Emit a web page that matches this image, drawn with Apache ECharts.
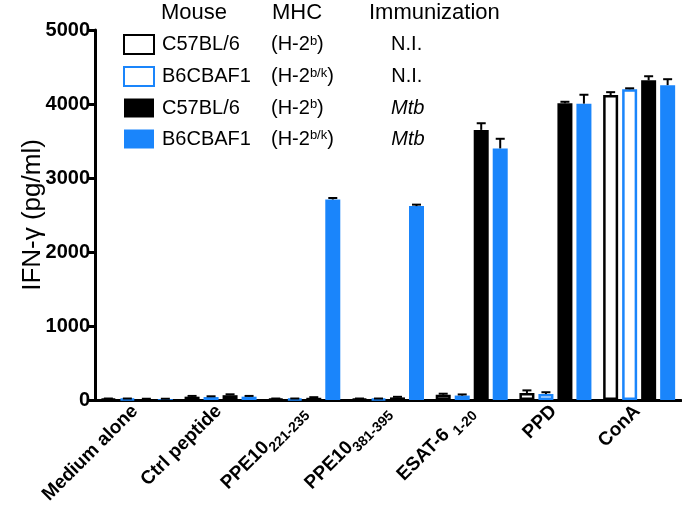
<!DOCTYPE html>
<html><head><meta charset="utf-8">
<script src="https://cdn.jsdelivr.net/npm/echarts@6/dist/echarts.min.js"></script>
<style>html,body{margin:0;padding:0;background:#fff}#c{width:682px;height:516px}</style>
</head><body><div id="c"></div>
<script>
// ---- data ----
var catMain = ['Medium alone', 'Ctrl peptide', 'PPE10', 'PPE10', 'ESAT-6 ', 'PPD', 'ConA'];
var catSub  = ['', '', '221-235', '381-395', '1-20', '', ''];
var categories = ['Medium alone', 'Ctrl peptide', 'PPE10 221-235', 'PPE10 381-395', 'ESAT-6 1-20', 'PPD', 'ConA'];

var seriesNames = ['C57BL/6 NI', 'B6CBAF1 NI', 'C57BL/6 Mtb', 'B6CBAF1 Mtb'];
var mouse = ['C57BL/6', 'B6CBAF1', 'C57BL/6', 'B6CBAF1'];
var mhcSup = ['b', 'b/k', 'b', 'b/k'];
var immun = ['N.I.', 'N.I.', 'Mtb', 'Mtb'];

var c57NI  = [15, 45, 15, 15, 70, 95, 4120];
var b6NI   = [15, 40, 15, 15, 60, 80, 4200];
var c57Mtb = [12, 65, 30, 35, 3650, 4010, 4320];
var b6Mtb  = [12, 45, 2710, 2620, 3400, 4005, 4255];

var c57NIerr  = [5, 10, 5, 5, 15, 35, 40];
var b6NIerr   = [5, 10, 5, 5, 15, 25, 12];
var c57Mtberr = [5, 12, 8, 8, 90, 20, 55];
var b6Mtberr  = [5, 10, 20, 20, 130, 120, 80];

var yTicks = [0, 1000, 2000, 3000, 4000, 5000];
var yTitle = 'IFN-γ (pg/ml)';

// ---- styles ----
var BLUE = '#1a85fb';
var values = [c57NI, b6NI, c57Mtb, b6Mtb];
var errs = [c57NIerr, b6NIerr, c57Mtberr, b6Mtberr];
var styles = [
  {color: '#ffffff', borderColor: '#000000', borderWidth: 2.5},
  {color: '#ffffff', borderColor: BLUE, borderWidth: 2.5},
  {color: '#000000', borderColor: '#000000', borderWidth: 0},
  {color: BLUE, borderColor: BLUE, borderWidth: 0}
];
var BAR_W = 15, GAP = 4;

var series = [];
for (var i = 0; i < 4; i++) {
  series.push({
    name: seriesNames[i], type: 'bar', data: values[i],
    barWidth: BAR_W, barGap: (GAP / BAR_W * 100) + '%',
    itemStyle: styles[i], z: 2
  });
}
for (var j = 0; j < 4; j++) {
  (function (k) {
    var d = values[k].map(function (v, idx) { return [idx, v, errs[k][idx]]; });
    series.push({
      type: 'custom', data: d, z: 5, silent: true,
      renderItem: function (params, api) {
        var idx = api.value(0), v = api.value(1), e = api.value(2);
        var total = 4 * BAR_W + 3 * GAP;
        var off = -total / 2 + k * (BAR_W + GAP) + BAR_W / 2;
        var p0 = api.coord([idx, v]);
        var p1 = api.coord([idx, v + e]);
        var x = p0[0] + off;
        return {
          type: 'group', children: [
            {type: 'line', shape: {x1: x, y1: p0[1], x2: x, y2: p1[1]}, style: {stroke: '#000', lineWidth: 2}},
            {type: 'line', shape: {x1: x - 4.5, y1: p1[1], x2: x + 4.5, y2: p1[1]}, style: {stroke: '#000', lineWidth: 2}}
          ]
        };
      }
    });
  })(j);
}

var chart = echarts.init(document.getElementById('c'), null, {renderer: 'canvas'});
var FONT = 'Liberation Sans, Arial, Helvetica, sans-serif';
chart.setOption({
  animation: false,
  textStyle: {fontFamily: FONT},
  grid: {left: 95, right: 1, top: 30, bottom: 116, containLabel: false},
  legend: {
    orient: 'vertical', left: 118, top: 29, itemWidth: 30, itemHeight: 19, itemGap: 11,
    data: seriesNames, icon: 'rect', selectedMode: false,
    formatter: function (name) {
      var i = seriesNames.indexOf(name);
      var p = mhcSup[i] === 'b' ? 'pb' : 'pk';
      var im = immun[i] === 'Mtb' ? 'it' : 'n';
      return '{m|' + mouse[i] + '}{h|(H-2}{s|' + mhcSup[i] + '}{' + p + '|)}{' + im + '|' + immun[i] + '}';
    },
    textStyle: {
      fontFamily: FONT, fontSize: 20, color: '#000', padding: [0, 0, 0, 3],
      rich: {
        m: {fontSize: 20, width: 109, fontFamily: FONT, color: '#000'},
        h: {fontSize: 20, fontFamily: FONT, color: '#000'},
        s: {fontSize: 13, fontFamily: FONT, color: '#000', verticalAlign: 'top', lineHeight: 14},
        pb: {fontSize: 20, fontFamily: FONT, color: '#000', width: 74},
        pk: {fontSize: 20, fontFamily: FONT, color: '#000', width: 64},
        n: {fontSize: 20, fontFamily: FONT, color: '#000'},
        it: {fontSize: 20, fontFamily: FONT, color: '#000', fontStyle: 'italic'}
      }
    }
  },
  graphic: [
    {type: 'text', left: 161, top: 2, style: {text: 'Mouse', fontSize: 22, fontFamily: FONT, fill: '#000'}},
    {type: 'text', left: 272, top: 2, style: {text: 'MHC', fontSize: 22, fontFamily: FONT, fill: '#000'}},
    {type: 'text', left: 369, top: 2, style: {text: 'Immunization', fontSize: 22, fontFamily: FONT, fill: '#000'}},
    {type: 'text', x: 33, y: 215, rotation: Math.PI / 2,
      style: {text: yTitle, fontSize: 26, fontFamily: FONT, fill: '#000', align: 'center', verticalAlign: 'middle'}}
  ],
  xAxis: {
    type: 'category', data: categories,
    axisLine: {lineStyle: {color: '#000', width: 3}},
    axisTick: {alignWithLabel: true, length: 9, lineStyle: {color: '#000', width: 3}},
    axisLabel: {
      rotate: 45, margin: 10, interval: 0, color: '#000',
      formatter: function (v, idx) {
        var i = categories.indexOf(v);
        var s = '{a|' + catMain[i] + '}';
        if (catSub[i]) s += '{s|' + catSub[i] + '}';
        return s;
      },
      rich: {
        a: {fontSize: 19, fontWeight: 'bold', fontFamily: FONT, color: '#000', lineHeight: 24, verticalAlign: 'top'},
        s: {fontSize: 14, fontWeight: 'bold', fontFamily: FONT, color: '#000', lineHeight: 14, verticalAlign: 'bottom'}
      }
    }
  },
  yAxis: {
    type: 'value', min: yTicks[0], max: yTicks[yTicks.length - 1], interval: 1000,
    axisLine: {show: true, lineStyle: {color: '#000', width: 3}},
    axisTick: {show: true, length: 8, lineStyle: {color: '#000', width: 3}},
    axisLabel: {fontSize: 20, fontWeight: 'bold', color: '#000', margin: 5, fontFamily: FONT,
      formatter: function (v) { return String(v); }},
    splitLine: {show: false}
  },
  series: series
});
</script></body></html>
